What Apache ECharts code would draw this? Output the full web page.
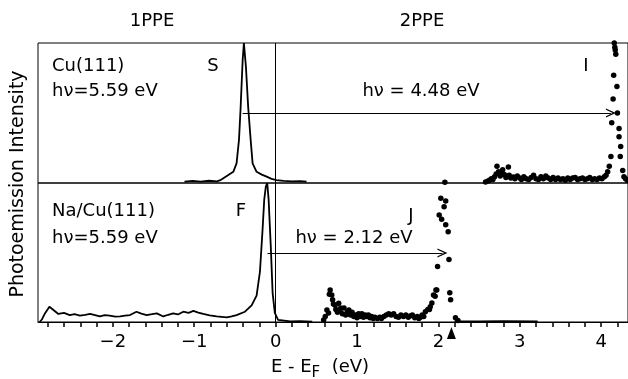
<!DOCTYPE html>
<html>
<head>
<meta charset="utf-8">
<script src="https://cdn.jsdelivr.net/npm/echarts@6/dist/echarts.min.js"></script>
<style>
  html, body { margin: 0; padding: 0; background: #fff; }
  #chart { width: 628px; height: 379px; }
</style>
</head>
<body>
<div id="chart"></div>
<script>
// energy axis (eV relative to E_F)
const xMin = -2.92;
const xMax = 4.33;
const xLabels = [-2, -1, 0, 1, 2, 3, 4];
const xTicks = [];
for (let i = -14; i <= 21; i++) xTicks.push(+(i * 0.2).toFixed(1));

// Cu(111), 1PPE spectrum (line) - [E, intensity]
const cuLine = [
  [-1.12, 1], [-1.02, 1.5], [-0.92, 1], [-0.82, 1.6], [-0.72, 1.2], [-0.68, 2],
  [-0.6, 5], [-0.52, 8], [-0.48, 14], [-0.45, 31], [-0.43, 54], [-0.405, 88],
  [-0.39, 100], [-0.365, 83], [-0.337, 54], [-0.307, 31], [-0.283, 14],
  [-0.234, 8], [-0.17, 6], [-0.11, 4.5], [-0.05, 3], [0.01, 2], [0.1, 1.5],
  [0.2, 1.2], [0.3, 1.4], [0.38, 1]
];

// Cu(111), 2PPE spectrum (dots)
const cuDots = [
  [2.08, 0.5],
  [2.58, 0.8], [2.61, 1.5], [2.63, 2], [2.65, 3], [2.67, 2.5], [2.69, 4.5],
  [2.71, 6.5], [2.72, 12], [2.74, 8], [2.76, 5], [2.78, 7], [2.79, 9.5],
  [2.81, 6], [2.83, 4], [2.86, 11.5], [2.87, 5.5], [2.89, 3.5], [2.92, 4.2],
  [2.94, 3], [2.97, 5], [3.0, 3.5], [3.02, 2.5], [3.05, 4.5], [3.08, 3],
  [3.11, 2.5], [3.14, 4], [3.17, 5.5], [3.2, 3], [3.23, 2.5], [3.26, 4.5],
  [3.29, 3], [3.32, 5], [3.35, 3.5], [3.38, 2.5], [3.41, 4], [3.44, 2.5],
  [3.47, 3.5], [3.5, 2.5], [3.53, 3], [3.56, 2], [3.59, 3.5], [3.62, 2.5],
  [3.65, 3.5], [3.68, 4], [3.71, 2.5], [3.74, 3], [3.77, 3.5], [3.8, 2.5],
  [3.83, 3], [3.86, 4], [3.89, 2.5], [3.92, 3], [3.95, 2.5], [3.98, 3.5],
  [4.01, 3], [4.04, 4.5], [4.06, 5.5], [4.08, 8], [4.1, 12], [4.12, 19],
  [4.13, 43], [4.147, 60], [4.154, 77], [4.161, 100], [4.168, 97], [4.173, 95],
  [4.18, 92], [4.194, 69], [4.2, 50], [4.22, 39], [4.22, 33], [4.24, 26],
  [4.235, 19], [4.265, 9], [4.28, 4.5], [4.3, 3], [4.32, 2]
];

// Na/Cu(111), 1PPE spectrum (line)
const naLine = [
  [-2.9, 0], [-2.87, 2], [-2.835, 6.2], [-2.78, 11], [-2.73, 8.6], [-2.67, 5.8],
  [-2.6, 6.5], [-2.53, 5], [-2.47, 5.6], [-2.405, 4.6], [-2.34, 5.2],
  [-2.28, 5.8], [-2.22, 5], [-2.16, 4], [-2.1, 5], [-2.04, 4.6], [-1.97, 3.8],
  [-1.91, 4], [-1.85, 4.6], [-1.79, 5], [-1.71, 7.4], [-1.65, 6], [-1.585, 5],
  [-1.52, 5.6], [-1.46, 6.2], [-1.38, 4], [-1.32, 5.2], [-1.26, 6.2],
  [-1.2, 5.4], [-1.135, 7.4], [-1.07, 6.6], [-1.01, 8], [-0.95, 6.8],
  [-0.89, 5.8], [-0.81, 4.8], [-0.725, 4], [-0.6, 3.4], [-0.54, 4],
  [-0.48, 5], [-0.377, 7.4], [-0.295, 12], [-0.234, 19], [-0.193, 36],
  [-0.16, 67], [-0.14, 88], [-0.12, 97.6], [-0.103, 100], [-0.086, 88],
  [-0.06, 55], [-0.037, 21], [-0.01, 6.5], [0.03, 1.5], [0.18, 0.5],
  [0.3, 0.6], [0.45, 0.3]
];

// Na/Cu(111), 2PPE spectrum (dots)
const naDots = [
  [0.59, 1.5], [0.61, 4], [0.63, 8.6], [0.65, 6.5], [0.66, 20], [0.67, 23],
  [0.69, 19.4], [0.7, 16], [0.71, 13], [0.73, 12], [0.74, 9], [0.76, 7],
  [0.775, 13.4], [0.79, 8], [0.8, 10], [0.82, 6], [0.84, 10], [0.86, 5],
  [0.88, 7], [0.9, 8.6], [0.92, 5], [0.94, 7], [0.96, 4], [0.98, 5], [1.0, 3],
  [1.02, 6], [1.04, 4], [1.06, 6], [1.08, 3.5], [1.1, 5], [1.12, 4],
  [1.14, 5], [1.16, 3], [1.18, 4], [1.2, 2.5], [1.22, 3.5], [1.25, 2.5],
  [1.28, 3.5], [1.3, 2.5], [1.33, 4], [1.36, 5], [1.39, 6], [1.42, 5],
  [1.45, 6], [1.48, 4], [1.51, 3.5], [1.54, 5], [1.57, 4], [1.6, 5],
  [1.63, 3.5], [1.66, 4.5], [1.68, 5], [1.71, 3], [1.74, 4], [1.76, 2.5],
  [1.78, 3.5], [1.8, 5], [1.82, 4], [1.84, 7.4], [1.87, 9], [1.89, 9],
  [1.9, 11], [1.92, 13.7], [1.94, 19.4], [1.96, 18.5], [1.97, 23], [1.98, 23],
  [1.99, 40], [2.01, 77], [2.03, 89], [2.04, 74], [2.07, 83], [2.09, 87],
  [2.09, 70], [2.12, 65], [2.13, 45], [2.14, 21], [2.15, 16], [2.21, 3],
  [2.24, 1]
];
const naTail = [[2.2, 0.6], [2.5, 0.5], [2.8, 0.7], [3.22, 0.5]];

// photon energy arrows [from, to, height]
const cuArrow = [-0.405, 4.12, 50];
const naArrow = [-0.1, 2.05, 49.6];
const naMarker = [[2.16, -8]];
const fermiLevel = 0;

const FONT = 'DejaVu Sans';
const chevron = 'path://M0,10 L5,0 L10,10 L8.6,10 L5,3.2 L1.4,10 Z';

const chart = echarts.init(document.getElementById('chart'));

const gridBase = {
  left: 38, right: 0, show: true, borderColor: '#000', borderWidth: 1,
  backgroundColor: 'transparent'
};

const arrowLine = (a) => ({
  silent: true,
  symbol: ['none', chevron],
  symbolSize: [9, 10],
  label: { show: false },
  lineStyle: { color: '#000', width: 1, type: 'solid' },
  data: [[{ coord: [a[0], a[2]] }, { coord: [a[1], a[2]] }]]
});

const zeroLine = {
  silent: true,
  symbol: 'none',
  label: { show: false },
  lineStyle: { color: '#000', width: 1, type: 'solid' },
  data: [{ xAxis: fermiLevel }]
};

const text = (x, y, str, align, size) => ({
  type: 'text', x: x, y: y,
  style: {
    text: str, fill: '#000', font: (size || 18) + 'px "' + FONT + '"',
    align: align || 'left', verticalAlign: 'middle'
  }
});

const dotStyle = { color: '#000', opacity: 1 };

const option = {
  animation: false,
  backgroundColor: '#fff',
  grid: [
    Object.assign({ top: 43, height: 140 }, gridBase),
    Object.assign({ top: 183, height: 139 }, gridBase)
  ],
  xAxis: [
    {
      gridIndex: 0, type: 'value', min: xMin, max: xMax,
      axisLine: { show: false }, axisTick: { show: false },
      axisLabel: { show: false }, splitLine: { show: false }
    },
    {
      gridIndex: 1, type: 'value', min: xMin, max: xMax,
      axisLine: { show: true, lineStyle: { color: '#000', width: 1 } },
      axisTick: {
        show: true, customValues: xTicks, length: 5, inside: false,
        lineStyle: { color: '#000', width: 1.5 }
      },
      axisLabel: {
        customValues: xLabels, margin: 11, color: '#000',
        fontFamily: FONT, fontSize: 18,
        formatter: (v) => (v < 0 ? '\u2212' + Math.abs(v) : '' + v)
      },
      splitLine: { show: false }
    }
  ],
  yAxis: [
    { gridIndex: 0, type: 'value', min: 0, max: 100, show: false },
    { gridIndex: 1, type: 'value', min: 0, max: 100, show: false }
  ],
  series: [
    {
      type: 'line', xAxisIndex: 0, yAxisIndex: 0, data: cuLine,
      showSymbol: false, lineStyle: { color: '#000', width: 1.8 },
      markLine: arrowLine(cuArrow)
    },
    {
      type: 'scatter', xAxisIndex: 0, yAxisIndex: 0, data: cuDots,
      symbolSize: 5.5, itemStyle: dotStyle, clip: false,
      markLine: zeroLine
    },
    {
      type: 'line', xAxisIndex: 1, yAxisIndex: 1, data: naLine,
      showSymbol: false, lineStyle: { color: '#000', width: 1.8 },
      markLine: arrowLine(naArrow)
    },
    {
      type: 'line', xAxisIndex: 1, yAxisIndex: 1, data: naTail,
      showSymbol: false, lineStyle: { color: '#000', width: 1.5 }
    },
    {
      type: 'scatter', xAxisIndex: 1, yAxisIndex: 1, data: naDots,
      symbolSize: 5.5, itemStyle: dotStyle, clip: false,
      markLine: zeroLine
    },
    {
      type: 'scatter', xAxisIndex: 1, yAxisIndex: 1, data: naMarker,
      symbol: 'triangle', symbolSize: [9, 12], itemStyle: dotStyle,
      clip: false, z: 10
    }
  ],
  graphic: [
    text(152, 21, '1PPE', 'center'),
    text(422, 21, '2PPE', 'center'),
    text(52, 66, 'Cu(111)'),
    text(52, 91, 'h\u03bd=5.59 eV'),
    text(213, 66, 'S', 'center'),
    text(586, 66, 'I', 'center'),
    text(421, 91, 'h\u03bd = 4.48 eV', 'center'),
    text(52, 211, 'Na/Cu(111)'),
    text(52, 238, 'h\u03bd=5.59 eV'),
    text(241, 211, 'F', 'center'),
    text(411, 216, 'J', 'center'),
    text(354, 238, 'h\u03bd = 2.12 eV', 'center'),
    {
      type: 'text', x: 18, y: 184, rotation: Math.PI / 2,
      style: {
        text: 'Photoemission Intensity', fill: '#000',
        font: '19px "' + FONT + '"', align: 'center', verticalAlign: 'middle'
      }
    },
    {
      type: 'text', x: 320, y: 367,
      style: {
        text: 'E - E{sub|F}  (eV)', fill: '#000',
        font: '18px "' + FONT + '"', align: 'center', verticalAlign: 'middle',
        rich: { sub: { fontSize: 15, fontFamily: FONT, padding: [12, 0, 0, 0] } }
      }
    }
  ]
};

chart.setOption(option);
window.addEventListener('resize', () => chart.resize());
</script>
</body>
</html>
